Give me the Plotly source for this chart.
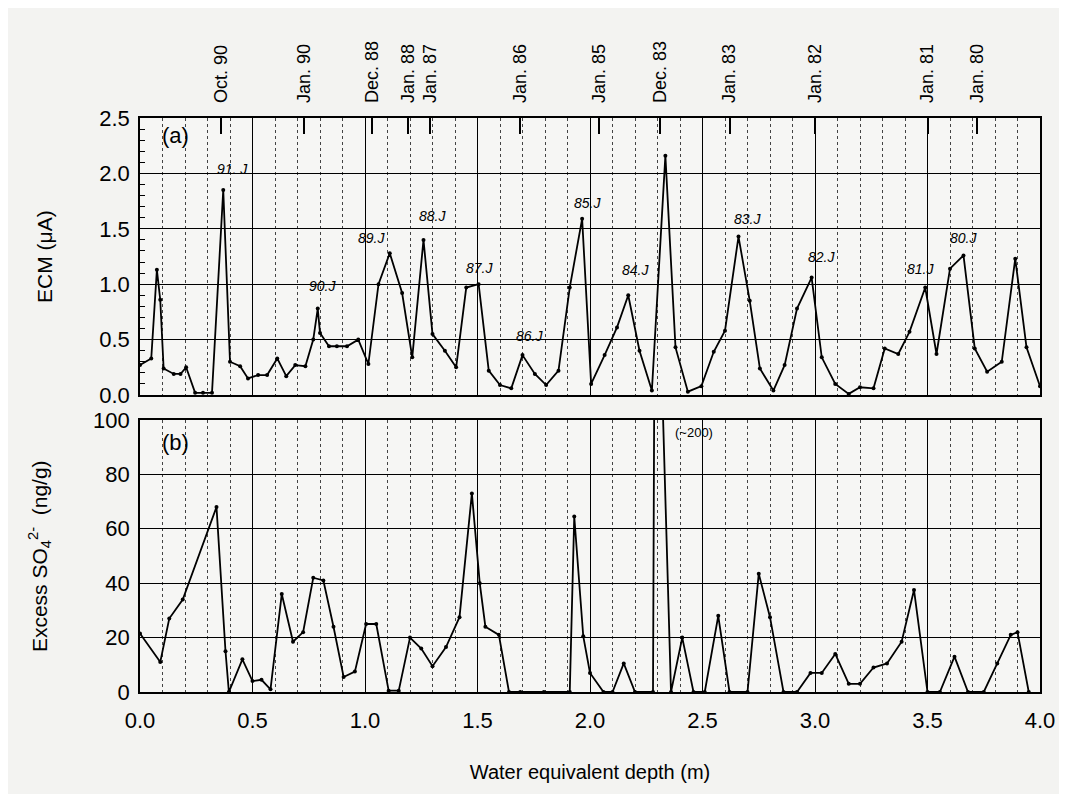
import plotly.graph_objects as go

# ---- data ----
depth_ecm = [0.0, 0.05, 0.075, 0.09, 0.105, 0.15, 0.18, 0.205, 0.245, 0.28, 0.32, 0.37, 0.40, 0.445,
             0.48, 0.525, 0.565, 0.61, 0.65, 0.69, 0.735, 0.77, 0.79, 0.80, 0.84, 0.875, 0.92, 0.97,
             1.015, 1.06, 1.11, 1.165, 1.21, 1.26, 1.30, 1.355, 1.405, 1.45, 1.505, 1.55, 1.60, 1.65,
             1.70, 1.755, 1.805, 1.86, 1.91, 1.965, 2.005, 2.065, 2.12, 2.17, 2.22, 2.275, 2.335, 2.38,
             2.435, 2.495, 2.55, 2.60, 2.66, 2.71, 2.755, 2.815, 2.865, 2.92, 2.985, 3.03, 3.09, 3.15,
             3.20, 3.26, 3.31, 3.37, 3.42, 3.49, 3.54, 3.60, 3.66, 3.71, 3.765, 3.83, 3.89, 3.94, 4.0]
ecm = [0.27, 0.33, 1.13, 0.86, 0.24, 0.19, 0.19, 0.25, 0.02, 0.02, 0.02, 1.85, 0.30, 0.26,
       0.15, 0.18, 0.18, 0.33, 0.17, 0.27, 0.26, 0.50, 0.78, 0.56, 0.44, 0.44, 0.44, 0.50,
       0.28, 1.00, 1.28, 0.92, 0.34, 1.40, 0.55, 0.40, 0.25, 0.97, 1.00, 0.22, 0.09, 0.06,
       0.36, 0.19, 0.09, 0.22, 0.97, 1.59, 0.10, 0.36, 0.61, 0.90, 0.40, 0.04, 2.16, 0.43,
       0.03, 0.08, 0.39, 0.58, 1.43, 0.85, 0.24, 0.04, 0.27, 0.78, 1.06, 0.34, 0.10, 0.01,
       0.07, 0.06, 0.42, 0.37, 0.57, 0.97, 0.37, 1.14, 1.26, 0.42, 0.21, 0.30, 1.23, 0.43, 0.08]

depth_so4 = [0.0, 0.09, 0.13, 0.19, 0.34, 0.38, 0.395, 0.455, 0.50, 0.54, 0.58, 0.63, 0.68, 0.725,
             0.77, 0.815, 0.86, 0.905, 0.955, 1.005, 1.05, 1.105, 1.15, 1.20, 1.25, 1.30, 1.36, 1.42,
             1.475, 1.51, 1.535, 1.595, 1.64, 1.69, 1.795, 1.91, 1.93, 1.97, 2.0, 2.06, 2.10, 2.15, 2.20,
             2.28, 2.29, 2.36, 2.41, 2.46, 2.51, 2.57, 2.62, 2.70, 2.75, 2.80, 2.86, 2.92, 2.98,
             3.03, 3.09, 3.15, 3.20, 3.26, 3.32, 3.385, 3.44, 3.50, 3.555, 3.62, 3.68, 3.75, 3.81,
             3.87, 3.90, 3.95]
so4 = [21.5, 11, 27, 34, 68, 15, 0, 12, 4, 4.5, 1, 36, 18.5, 22,
       42, 41, 24, 5.5, 7.5, 25, 25, 0.5, 0.5, 20, 16, 9.5, 16.5, 27.5,
       73, 40, 24, 21, 0, 0, 0, 0, 64.5, 20.5, 7, 0, 0, 10.5, 0,
       0, 200, 0, 20, 0, 0, 28, 0, 0, 43.5, 27.5, 0, 0, 7,
       7, 14, 3, 3, 9, 10.5, 18.5, 37.5, 0, 0, 13, 0, 0, 10.5,
       21, 22, 0]

event_labels = ["Oct. 90", "Jan. 90", "Dec. 88", "Jan. 88", "Jan. 87", "Jan. 86",
                "Jan. 85", "Dec. 83", "Jan. 83", "Jan. 82", "Jan. 81", "Jan. 80"]
event_depth = [0.36, 0.73, 1.03, 1.19, 1.29, 1.69, 2.04, 2.31, 2.62, 3.0, 3.5, 3.72]

peak_labels = ["91. J", "90.J", "89.J", "88.J", "87.J", "86.J", "85.J", "84.J", "83.J", "82.J", "81.J", "80.J"]
peak_x = [0.41, 0.81, 1.03, 1.30, 1.51, 1.73, 1.99, 2.20, 2.70, 3.03, 3.47, 3.66]
peak_y = [2.04, 0.98, 1.42, 1.62, 1.15, 0.53, 1.73, 1.13, 1.59, 1.25, 1.14, 1.42]

FONT = "Liberation Sans, Arial, Helvetica, sans-serif"

fig = go.Figure()
fig.add_trace(go.Scatter(x=depth_ecm, y=ecm, mode="lines+markers", xaxis="x", yaxis="y",
                         line=dict(color="black", width=1.8), marker=dict(color="black", size=4),
                         showlegend=False, hoverinfo="x+y"))
fig.add_trace(go.Scatter(x=depth_so4, y=so4, mode="lines+markers", xaxis="x2", yaxis="y2",
                         line=dict(color="black", width=1.8), marker=dict(color="black", size=4),
                         showlegend=False, hoverinfo="x+y"))
# invisible trace to activate top event axis
fig.add_trace(go.Scatter(x=event_depth, y=[None] * len(event_depth), xaxis="x3", yaxis="y",
                         mode="markers", showlegend=False, hoverinfo="skip"))

grid_common = dict(showline=True, linecolor="black", linewidth=1.6, mirror=True,
                   showgrid=True, gridcolor="black", gridwidth=1.2, zeroline=False)

fig.update_layout(
    width=1067, height=794,
    margin=dict(l=132, r=35, t=110, b=110, autoexpand=False),
    paper_bgcolor="#f3f3f1", plot_bgcolor="#f6f6f4",
    font=dict(family=FONT, color="black"),
    xaxis=dict(domain=[0, 1], anchor="y", range=[0, 4], dtick=0.5, showticklabels=False,
               ticks="", matches="x2",
               minor=dict(dtick=0.1, showgrid=True, griddash="dot", gridcolor="#444", gridwidth=1.2),
               **grid_common),
    yaxis=dict(domain=[0.5174, 1], anchor="x", range=[0, 2.5], dtick=0.5, tickformat=".1f",
               ticks="inside", ticklen=8, tickcolor="black", ticklabelstandoff=4, automargin=False,
               minor=dict(dtick=0.1, ticks="inside", ticklen=5, tickcolor="black", showgrid=False),
               tickfont=dict(size=22),
               **grid_common),
    xaxis2=dict(domain=[0, 1], anchor="y2", range=[0, 4], dtick=0.5, tickformat=".1f",
                ticks="", tickfont=dict(size=22), ticklabelstandoff=8, automargin=False,
                minor=dict(dtick=0.1, showgrid=True, griddash="dot", gridcolor="#444", gridwidth=1.2),
                title=dict(text="Water equivalent depth (m)", font=dict(size=20), standoff=33),
                **grid_common),
    yaxis2=dict(domain=[0, 0.4739], anchor="x2", range=[0, 100], dtick=20,
                ticks="inside", ticklen=8, tickcolor="black", ticklabelstandoff=4, automargin=False,
                tickfont=dict(size=22),
                **grid_common),
    xaxis3=dict(overlaying="x", anchor="y", side="top", range=[0, 4], automargin=False,
                tickmode="array", tickvals=event_depth, ticktext=event_labels,
                tickangle=-90, ticks="inside", ticklen=16, tickwidth=1.6, tickcolor="black",
                tickfont=dict(size=18), ticklabelstandoff=14,
                showgrid=False, zeroline=False, showline=False),
)

# y-axis titles
fig.add_annotation(x=-0.1056, y=0.7596, xref="paper", yref="paper", text="ECM (μA)",
                   textangle=-90, showarrow=False, xanchor="center", yanchor="middle",
                   font=dict(size=21, family=FONT))
fig.add_annotation(x=-0.111, y=0.237, xref="paper", yref="paper",
                   text="Excess SO<sub>4</sub><sup>2-</sup>  (ng/g)",
                   textangle=-90, showarrow=False, xanchor="center", yanchor="middle",
                   font=dict(size=21, family=FONT))

for t, x, y in zip(peak_labels, peak_x, peak_y):
    fig.add_annotation(x=x, y=y, xref="x", yref="y", text=f"<i>{t}</i>", showarrow=False,
                       font=dict(size=14, family=FONT), bgcolor="rgba(0,0,0,0)")

fig.add_annotation(x=0.022, y=0.99, xref="x domain", yref="y domain", text="(a)", showarrow=False,
                   xanchor="left", yanchor="top", font=dict(size=22, family=FONT))
fig.add_annotation(x=0.022, y=0.97, xref="x2 domain", yref="y2 domain", text="(b)", showarrow=False,
                   xanchor="left", yanchor="top", font=dict(size=22, family=FONT))
fig.add_annotation(x=2.37, y=99, xref="x2", yref="y2", text="(~200)", showarrow=False,
                   xanchor="left", yanchor="top", font=dict(size=13, family=FONT))

fig.write_html("out.html")
